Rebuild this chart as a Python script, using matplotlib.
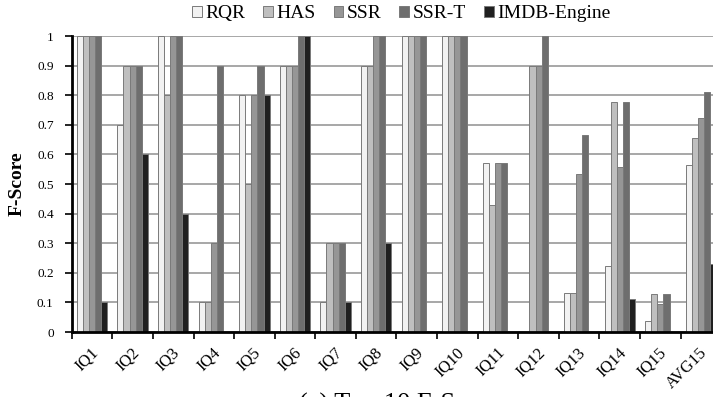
import matplotlib
matplotlib.use("Agg")
import matplotlib.pyplot as plt
import matplotlib.transforms as mtransforms
import numpy as np

categories = ["IQ1", "IQ2", "IQ3", "IQ4", "IQ5", "IQ6", "IQ7", "IQ8", "IQ9", "IQ10",
              "IQ11", "IQ12", "IQ13", "IQ14", "IQ15", "AVG15"]
series_names = ["RQR", "HAS", "SSR", "SSR-T", "IMDB-Engine"]
rqr = [1.0, 0.7, 1.0, 0.1, 0.8, 0.9, 0.1, 0.9, 1.0, 1.0, 0.571, 0.0, 0.133, 0.222, 0.037, 0.565]
has = [1.0, 0.9, 0.8, 0.1, 0.5, 0.9, 0.3, 0.9, 1.0, 1.0, 0.429, 0.9, 0.133, 0.778, 0.130, 0.654]
ssr = [1.0, 0.9, 1.0, 0.3, 0.8, 0.9, 0.3, 1.0, 1.0, 1.0, 0.571, 0.9, 0.533, 0.556, 0.095, 0.724]
ssr_t = [1.0, 0.9, 1.0, 0.9, 0.9, 1.0, 0.3, 1.0, 1.0, 1.0, 0.571, 1.0, 0.667, 0.778, 0.127, 0.810]
imdb = [0.1, 0.6, 0.4, 0.0, 0.8, 1.0, 0.1, 0.3, 0.0, 0.0, 0.0, 0.0, 0.0, 0.111, 0.0, 0.230]
yticks = [0, 0.1, 0.2, 0.3, 0.4, 0.5, 0.6, 0.7, 0.8, 0.9, 1]
ytick_labels = ["0", "0.1", "0.2", "0.3", "0.4", "0.5", "0.6", "0.7", "0.8", "0.9", "1"]

colors = ["#f2f2f2", "#bfbfbf", "#969696", "#6e6e6e", "#202020"]
plt.rcParams["font.family"] = ["Liberation Serif", "DejaVu Serif"]

fig = plt.figure(figsize=(7.13, 3.97), dpi=100)
ax = fig.add_axes([0.1006, 0.1637, 0.911, 0.7456])

x = np.arange(len(categories))
w = 0.15
all_series = [rqr, has, ssr, ssr_t, imdb]
for j, (vals, name, c) in enumerate(zip(all_series, series_names, colors)):
    ax.bar(x + (j - 2) * w, vals, width=w, color=c, edgecolor="#7a7a7a",
           linewidth=0.7, label=name, zorder=2)

ax.set_xlim(-0.5, len(categories) - 0.5)
ax.set_ylim(0, 1)
ax.set_yticks(yticks)
ax.set_yticklabels(ytick_labels, fontsize=9.5)
ax.yaxis.grid(True, color="#a0a0a0", linewidth=1.3, zorder=0)
ax.set_axisbelow(True)
ax.tick_params(axis="y", direction="out", length=5, width=1.2, pad=8, colors="black")

ax.set_xticks(x)
ax.set_xticklabels(categories, fontsize=12, rotation=45, ha="right", va="center",
                   rotation_mode="anchor")
ax.tick_params(axis="x", which="major", length=0, pad=13)
ax.set_xticks(np.arange(-0.5, len(categories), 1.0), minor=True)
ax.tick_params(axis="x", which="minor", direction="out", length=5, width=1.2)
offset = mtransforms.ScaledTranslation(4 / 100, 0, fig.dpi_scale_trans)
for lab in ax.get_xticklabels():
    lab.set_transform(lab.get_transform() + offset)

for s in ["top", "right"]:
    ax.spines[s].set_visible(False)
for s in ["left", "bottom"]:
    ax.spines[s].set_linewidth(2)
    ax.spines[s].set_color("black")

ax.set_ylabel("F-Score", fontsize=14, fontweight="bold")
ax.yaxis.set_label_coords(-0.071, 0.5)

ax.legend(loc="center", bbox_to_anchor=(0.563, 0.965), bbox_transform=fig.transFigure,
          ncol=5, frameon=False, fontsize=14, handlelength=0.5, handleheight=0.5,
          handletextpad=0.2, columnspacing=0.9)

fig.text(0.561, -0.035, "(a) Top-10 F-Score", ha="center", va="baseline", fontsize=19)

fig.savefig("out.png", dpi=100)
